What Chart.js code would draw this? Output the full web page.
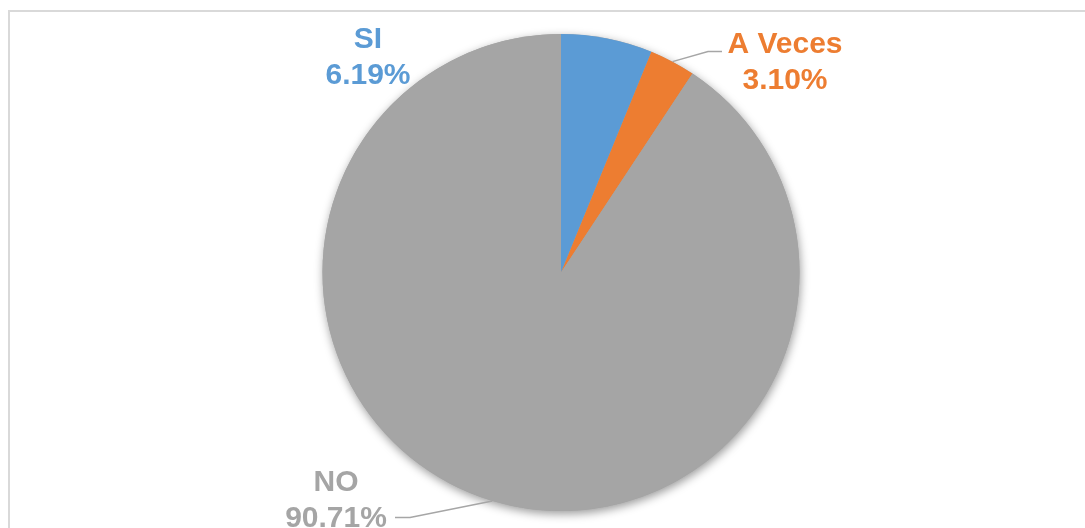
<!DOCTYPE html>
<html lang="es">
<head>
    <meta charset="UTF-8">
    <title>SI / A Veces / NO</title>
    <style>
        body {
            margin: 0;
            background: #ffffff;
            overflow: hidden;
        }
        .frame {
            position: absolute;
            left: 8px;
            top: 10px;
            width: 1200px;
            height: 700px;
            border: 2px solid #d9d9d9;
        }
        #pie {
            position: absolute;
            left: 0;
            top: 0;
        }
    </style>
    <script src="https://cdn.jsdelivr.net/npm/chart.js"></script>
</head>
<body>
    <div class="frame"></div>
    <canvas id="pie" width="1085" height="528"></canvas>

    <script>
        const categories = ['SI', 'A Veces', 'NO'];
        const percentages = [6.19, 3.10, 90.71];
        const colors = ['#5b9bd5', '#ed7d31', '#a5a5a5'];

        // where each label sits, relative to the pie centre (text centre x, first baseline y)
        const labelSpots = [
            { dx: -193, dy: -225 },
            { dx: 224, dy: -220 },
            { dx: -225, dy: 218 }
        ];
        // leader line bend points, relative to the pie centre (null = no line)
        const leaders = [
            null,
            [[147, -221], [161, -221]],
            [[-151, 245], [-166, 245]]
        ];

        const pieShadow = {
            id: 'pieShadow',
            beforeDatasetsDraw(chart) {
                const arc = chart.getDatasetMeta(0).data[0];
                const ctx = chart.ctx;
                ctx.save();
                ctx.shadowColor = 'rgba(0,0,0,0.4)';
                ctx.shadowBlur = 10;
                ctx.shadowOffsetX = 1;
                ctx.shadowOffsetY = 3;
                ctx.fillStyle = '#a5a5a5';
                ctx.beginPath();
                ctx.arc(arc.x, arc.y, arc.outerRadius, 0, Math.PI * 2);
                ctx.fill();
                ctx.restore();
            }
        };

        const pieLabels = {
            id: 'pieLabels',
            afterDatasetsDraw(chart) {
                const ctx = chart.ctx;
                const arcs = chart.getDatasetMeta(0).data;
                ctx.save();
                arcs.forEach((arc, i) => {
                    const cx = arc.x, cy = arc.y;
                    if (leaders[i]) {
                        const mid = (arc.startAngle + arc.endAngle) / 2;
                        ctx.strokeStyle = '#a6a6a6';
                        ctx.lineWidth = 1.5;
                        ctx.beginPath();
                        ctx.moveTo(cx + Math.cos(mid) * arc.outerRadius, cy + Math.sin(mid) * arc.outerRadius);
                        leaders[i].forEach(p => ctx.lineTo(cx + p[0], cy + p[1]));
                        ctx.stroke();
                    }
                    const spot = labelSpots[i];
                    ctx.fillStyle = colors[i];
                    ctx.font = "bold 30px 'Liberation Sans', Arial, sans-serif";
                    ctx.textAlign = 'center';
                    ctx.textBaseline = 'alphabetic';
                    ctx.fillText(categories[i], cx + spot.dx, cy + spot.dy);
                    ctx.fillText(percentages[i].toFixed(2) + '%', cx + spot.dx, cy + spot.dy + 36);
                });
                ctx.restore();
            }
        };

        new Chart(document.getElementById('pie'), {
            type: 'pie',
            data: {
                labels: categories,
                datasets: [{
                    data: percentages,
                    backgroundColor: colors,
                    borderWidth: 0
                }]
            },
            options: {
                responsive: false,
                animation: false,
                devicePixelRatio: 1,
                layout: {
                    padding: { left: 37, right: 0, top: 34, bottom: 17 }
                },
                plugins: {
                    legend: { display: false },
                    tooltip: { enabled: false }
                }
            },
            plugins: [pieShadow, pieLabels]
        });
    </script>
</body>
</html>
